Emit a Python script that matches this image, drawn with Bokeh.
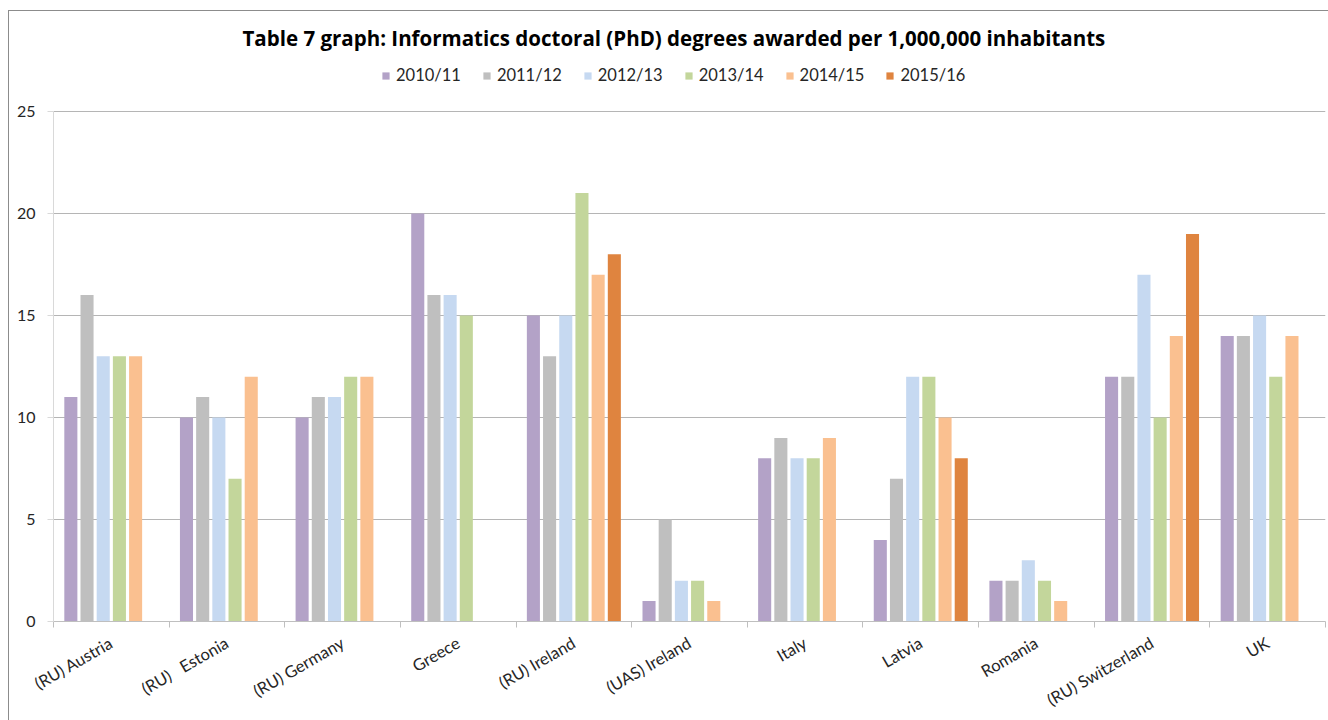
from math import pi

from bokeh.embed import file_html
from bokeh.models import (ColumnDataSource, FixedTicker, Legend, LegendItem,
                          Range1d)
from bokeh.plotting import figure
from bokeh.resources import INLINE
from bokeh.transform import dodge

nan = float("nan")

countries = [
    "(RU) Austria", "(RU)\u00a0\u00a0 Estonia", "(RU) Germany", "Greece", "(RU) Ireland",
    "(UAS) Ireland", "Italy", "Latvia", "Romania", "(RU) Switzerland", "UK",
]
years = ["2010/11", "2011/12", "2012/13", "2013/14", "2014/15", "2015/16"]

v_2010_11 = [11, 10, 10, 20, 15, 1, 8, 4, 2, 12, 14]
v_2011_12 = [16, 11, 11, 16, 13, 5, 9, 7, 2, 12, 14]
v_2012_13 = [13, 10, 11, 16, 15, 2, 8, 12, 3, 17, 15]
v_2013_14 = [13, 7, 12, 15, 21, 2, 8, 12, 2, 10, 12]
v_2014_15 = [13, 12, 12, nan, 17, 1, 9, 10, 1, 14, 14]
v_2015_16 = [nan, nan, nan, nan, 18, nan, nan, 8, nan, 19, nan]

y_ticks = [0, 5, 10, 15, 20, 25]
y_max = 25

colors = ["#b3a2c7", "#bfbfbf", "#c6d9f1", "#c3d69b", "#fac090", "#df843f"]
series = [v_2010_11, v_2011_12, v_2012_13, v_2013_14, v_2014_15, v_2015_16]
keys = ["y0", "y1", "y2", "y3", "y4", "y5"]

n = len(countries)
centres = [i + 0.5 for i in range(n)]        # one unit per country
data = {"country": countries, "pos": centres}
for k, vals in zip(keys, series):
    data[k] = vals
source = ColumnDataSource(data)

FONT = "Lato"
TEXT = "#262626"

# the frame reaches above the value axis to leave room for the legend row
frame_h, value_h = 566, 510
p = figure(
    x_range=Range1d(0, n),
    y_range=Range1d(0, y_max * frame_h / value_h),
    width=1320, height=710,
    output_backend="svg", toolbar_location=None,
    min_border_left=44, min_border_right=4,
    min_border_top=44, min_border_bottom=100,
)
p.margin = (10, 0, 0, 8)
p.styles = {"border-left": "1px solid #8c8c8c", "border-top": "1px solid #8c8c8c"}
p.outline_line_color = None
p.background_fill_color = "white"
p.border_fill_color = "white"

# title
p.title.text = "Table 7 graph: Informatics doctoral (PhD) degrees awarded per 1,000,000 inhabitants"
p.title.align = "left"
p.title.offset = 189
p.title.text_font = "Open Sans"
p.title.text_font_size = "20.5px"
p.title.text_font_style = "bold"
p.title.text_color = "black"
p.title.standoff = 7

# bars, six slots per country
pitch = 0.14
renderers = []
for i, (k, c) in enumerate(zip(keys, colors)):
    r = p.vbar(x=dodge("pos", (i - 2.5) * pitch), top=k,
               width=0.113, source=source, fill_color=c, line_color=None)
    renderers.append(r)

# y axis and grid
yax = p.yaxis[0]
yax.ticker = FixedTicker(ticks=y_ticks)
yax.bounds = (0, y_max)
yax.axis_line_color = "#d9d9d9"
yax.major_tick_line_color = "#d9d9d9"
yax.major_tick_in = 0
yax.major_tick_out = 6
yax.minor_tick_line_color = None
yax.major_label_text_font = FONT
yax.major_label_text_font_size = "16px"
yax.major_label_text_color = TEXT
yax.major_label_standoff = 12

p.ygrid.ticker = FixedTicker(ticks=y_ticks)
p.ygrid.grid_line_color = "#b5b5b5"
p.xgrid.grid_line_color = None

# category axis: ticks between groups, names at group centres
xax = p.xaxis[0]
xax.ticker = FixedTicker(ticks=centres, minor_ticks=list(range(n + 1)))
xax.major_label_overrides = {c: name for c, name in zip(centres, countries)}
xax.axis_line_color = "#bfbfbf"
xax.major_tick_line_color = None
xax.major_tick_in = 0
xax.major_tick_out = 4
xax.minor_tick_line_color = "#bfbfbf"
xax.minor_tick_in = 0
xax.minor_tick_out = 6
xax.major_label_orientation = pi / 6
xax.major_label_text_font = FONT
xax.major_label_text_font_size = "16.5px"
xax.major_label_text_color = TEXT
xax.major_label_standoff = 14

# legend, one row above the value area
legend = Legend(
    items=[LegendItem(label=y, renderers=[r]) for y, r in zip(years, renderers)],
    orientation="horizontal",
    location=(328, 536),
    glyph_width=9, glyph_height=9,
    label_standoff=6, spacing=21,
    label_text_font=FONT, label_text_font_size="16.5px", label_text_color=TEXT,
    border_line_color=None, background_fill_alpha=0,
    padding=0, margin=0,
)
p.add_layout(legend)

open("out.html", "w").write(file_html(p, INLINE))
